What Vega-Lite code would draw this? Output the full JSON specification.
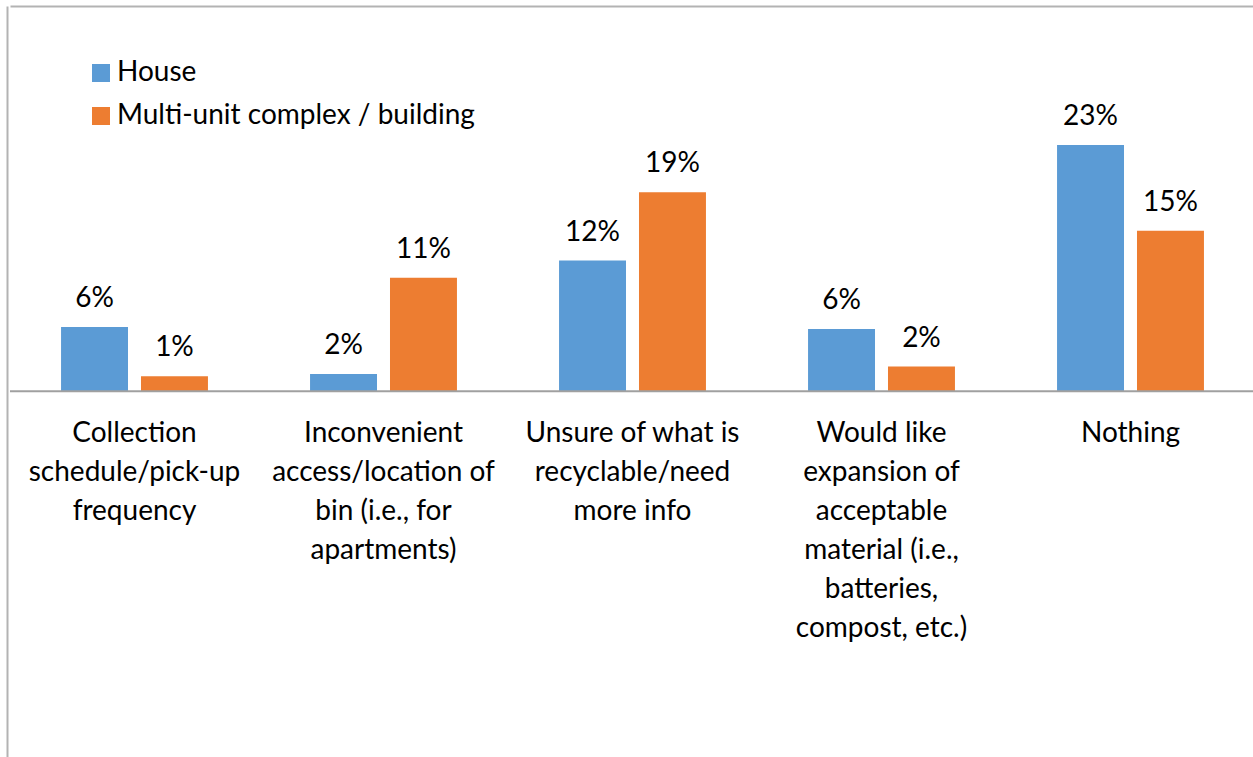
{
  "$schema": "https://vega.github.io/schema/vega-lite/v6.json",
  "width": 1243,
  "height": 751,
  "autosize": {"type": "none"},
  "padding": {"left": 10, "top": 6, "right": 0, "bottom": 0},
  "background": "white",
  "config": {"view": {"stroke": null}, "font": "Lato"},
  "datasets": {
    "bars": [
      {"category": "Collection|schedule/pick-up|frequency", "type": "House", "value": 0.06},
      {"category": "Collection|schedule/pick-up|frequency", "type": "Multi-unit complex / building", "value": 0.014},
      {"category": "Inconvenient|access/location of|bin (i.e., for|apartments)", "type": "House", "value": 0.016},
      {"category": "Inconvenient|access/location of|bin (i.e., for|apartments)", "type": "Multi-unit complex / building", "value": 0.106},
      {"category": "Unsure of what is|recyclable/need|more info", "type": "House", "value": 0.122},
      {"category": "Unsure of what is|recyclable/need|more info", "type": "Multi-unit complex / building", "value": 0.186},
      {"category": "Would like|expansion of|acceptable|material (i.e.,|batteries,|compost, etc.)", "type": "House", "value": 0.058},
      {"category": "Would like|expansion of|acceptable|material (i.e.,|batteries,|compost, etc.)", "type": "Multi-unit complex / building", "value": 0.023},
      {"category": "Nothing", "type": "House", "value": 0.23},
      {"category": "Nothing", "type": "Multi-unit complex / building", "value": 0.15}
    ]
  },
  "layer": [
    {
      "data": {"name": "bars"},
      "mark": {"type": "bar"},
      "encoding": {
        "x": {
          "field": "category", "type": "nominal", "sort": null,
          "scale": {"range": [0, 1245], "paddingInner": 0.41, "paddingOuter": 0.205},
          "axis": {
            "orient": "top", "title": null, "ticks": false, "tickSize": 0,
            "domainColor": "#b3b3b3", "domainWidth": 2,
            "labelAngle": 0, "labelPadding": -413, "labelBaseline": "top",
            "labelFont": "Lato", "labelFontSize": 28, "labelLineHeight": 39,
            "labelColor": "#000000", "labelLimit": 0, "labelOverlap": false,
            "labelExpr": "split(datum.label, '|')"
          }
        },
        "xOffset": {
          "field": "type", "type": "nominal",
          "sort": ["House", "Multi-unit complex / building"],
          "scale": {"paddingInner": 0.1625, "paddingOuter": 0}
        },
        "y": {
          "field": "value", "type": "quantitative",
          "scale": {"domain": [-0.342, 0.36], "nice": false},
          "axis": {"title": null, "labels": false, "ticks": false, "grid": false, "offset": 3, "domainColor": "#b3b3b3", "domainWidth": 2}
        },
        "color": {
          "field": "type", "type": "nominal",
          "sort": ["House", "Multi-unit complex / building"],
          "scale": {"range": ["#5B9BD5", "#ED7D31"]},
          "legend": {
            "orient": "none", "legendX": 77, "legendY": 53, "title": null,
            "symbolType": "square", "symbolSize": 324, "symbolStrokeWidth": 0,
            "labelFont": "Lato", "labelFontSize": 28, "labelColor": "#000000",
            "labelOffset": 2, "rowPadding": 15, "labelLimit": 0
          }
        }
      }
    },
    {
      "data": {"name": "bars"},
      "mark": {"type": "text", "baseline": "alphabetic", "dy": -20, "fontSize": 28, "font": "Lato", "color": "#000000"},
      "encoding": {
        "x": {"field": "category", "type": "nominal", "sort": null},
        "xOffset": {"field": "type", "type": "nominal", "sort": ["House", "Multi-unit complex / building"]},
        "y": {"field": "value", "type": "quantitative"},
        "text": {"field": "value", "type": "quantitative", "format": ".0%"}
      }
    },
    {
      "data": {"values": [{}]},
      "mark": {"type": "rule", "color": "#a0a0a0", "strokeWidth": 2},
      "encoding": {"y": {"datum": 0}}
    }
  ]
}
